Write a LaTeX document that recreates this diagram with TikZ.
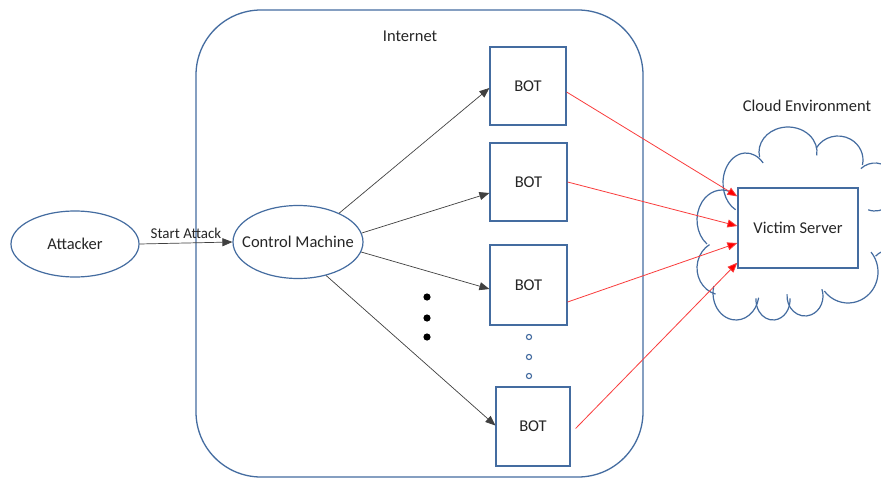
\documentclass[tikz,border=0pt]{standalone}
\usepackage{fontspec}
\setmainfont{Carlito}
\usetikzlibrary{arrows.meta,shapes.geometric}
\definecolor{shapeblue}{RGB}{68,108,160}
\definecolor{txt}{RGB}{38,38,38}
\definecolor{redline}{RGB}{250,60,60}
\tikzset{
  ell/.style={ellipse, draw=shapeblue, line width=1.2pt, font=\fontsize{16.5}{18}\selectfont, text=txt, inner sep=0pt},
  botbox/.style={rectangle, draw=shapeblue, line width=1.2pt, minimum width=76pt, minimum height=78pt, font=\fontsize{16.5}{18}\selectfont, text=txt, inner sep=0pt},
  blackarrow/.style={draw=black!75, line width=0.7pt, -{Triangle[length=10pt,width=8pt]}},
  redarrow/.style={draw=redline, line width=0.8pt, -{Triangle[length=10pt,width=8pt,fill=red]}},
  lbl/.style={font=\fontsize{16.5}{18}\selectfont, text=txt, inner sep=0pt},
  puffline/.style={draw=shapeblue, line width=1.2pt},
}
\newcommand{\cloudpuff}[6]{%
  \draw[puffline] (#1,#2) ++(#5:#3 and #4) arc[start angle=#5, end angle=#6, x radius=#3, y radius=#4];}
\begin{document}
\begin{tikzpicture}[x=1pt,y=-1pt]
\useasboundingbox[fill=white] (0,0) rectangle (881,479);
% Internet region
\draw[shapeblue, line width=1.3pt, rounded corners=65pt] (196,10) rectangle (643,477);
\node[lbl] (inet) at (410,36) {Internet};
% cloud (drawn as overlapping puffs)
\begin{scope}
\clip (0,0) rectangle (881,479);
\cloudpuff{722}{220}{25}{30}{127}{290}
\cloudpuff{746}{183}{23}{30}{117}{318}
\cloudpuff{788}{152}{29}{25}{168}{368}
\cloudpuff{838}{160}{25}{24}{210}{372}
\cloudpuff{875}{187}{22}{24}{230}{468}
\cloudpuff{890}{270}{20}{20}{224}{400}
\cloudpuff{848}{272}{30}{31}{-40}{142}
\cloudpuff{805}{296}{18}{20}{-20}{185}
\cloudpuff{773}{300}{17}{20}{-5}{185}
\cloudpuff{736}{293}{23}{27}{10}{195}
\cloudpuff{722}{268}{25}{27}{105}{240}
\end{scope}
\node[lbl] (cloudlbl) at (807,106) {Cloud Environment};
% nodes
\node[ell, minimum width=128pt, minimum height=66pt] (att) at (75,244) {\makebox[0pt]{Attacker}};
\node[ell, minimum width=130pt, minimum height=73pt] (cm) at (298,242) {\makebox[0pt]{Control Machine}};
\node[botbox] (bot1) at (528,86) {BOT};
\node[botbox, minimum width=77pt] (bot2) at (528.5,182) {BOT};
\node[botbox, minimum width=77pt, minimum height=80pt] (bot3) at (528.5,285) {BOT};
\node[botbox, minimum width=74pt, minimum height=79pt] (bot4) at (533,426.5) {BOT};
\node[rectangle, draw=shapeblue, fill=white, line width=1.2pt, minimum width=120pt, minimum height=80pt, font=\fontsize{16.5}{18}\selectfont, text=txt] (vs) at (798,228) {Victim Server};
% start attack
\draw[blackarrow] (att.east) -- (cm.west) node[midway, above=4pt, lbl, font=\fontsize{15}{17}\selectfont] (sa) {Start Attack};
% control -> bots
\draw[blackarrow] (cm.35) -- ([yshift=-2pt]bot1.west);
\draw[blackarrow] (cm.8) -- ([yshift=-11pt]bot2.west);
\draw[blackarrow] (cm.-9) -- ([yshift=-4pt]bot3.west);
\draw[blackarrow] (cm.-50) -- ([yshift=1pt]bot4.west);
% bots -> victim
\draw[redarrow] ([yshift=-6pt]bot1.east) -- ([yshift=-9pt]vs.north west);
\draw[redarrow] (bot2.east) -- ([yshift=2pt]vs.west);
\draw[redarrow] ([yshift=-17pt]bot3.east) -- ([yshift=-15pt]vs.west);
\draw[redarrow] ([xshift=5pt,yshift=-2pt]bot4.east) -- ([yshift=6pt]vs.south west);
% dots
\foreach \i/\y in {1/297,2/318,3/337}{
  \fill[black] (427,\y) circle (3.6pt) coordinate (d\i);
}
\foreach \i/\y in {1/337,2/357,3/376}{
  \draw[shapeblue, line width=1.1pt] (529,\y) circle (2.6pt) coordinate (o\i);
}
\end{tikzpicture}
\end{document}
